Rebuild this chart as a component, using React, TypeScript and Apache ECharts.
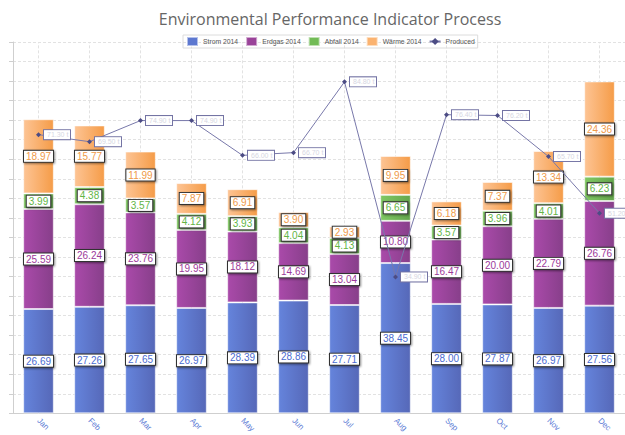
import React, { useEffect, useRef } from "react";
import * as echarts from "echarts";

const months = ["Jan", "Feb", "Mar", "Apr", "May", "Jun", "Jul", "Aug", "Sep", "Oct", "Nov", "Dec"];
const strom = [26.69, 27.26, 27.65, 26.97, 28.39, 28.86, 27.71, 38.45, 28.0, 27.87, 26.97, 27.56];
const erdgas = [25.59, 26.24, 23.76, 19.95, 18.12, 14.69, 13.04, 10.8, 16.47, 20.0, 22.79, 26.76];
const abfall = [3.99, 4.38, 3.57, 4.12, 3.93, 4.04, 4.13, 6.65, 3.57, 3.96, 4.01, 6.23];
const waerme = [18.97, 15.77, 11.99, 7.87, 6.91, 3.9, 2.93, 9.95, 6.18, 7.37, 13.34, 24.36];
const produced = [71.3, 69.5, 74.9, 74.9, 66.0, 66.7, 84.8, 34.9, 76.4, 76.2, 65.7, 51.2];

const FONT = "'Liberation Sans', Arial, sans-serif";

function grad(a: string, b: string) {
  return new echarts.graphic.LinearGradient(0, 0, 1, 0, [
    { offset: 0, color: a },
    { offset: 1, color: b },
  ]);
}

function barLabel(color: string) {
  return {
    show: true,
    position: "inside",
    formatter: (p: any) => Number(p.value).toFixed(2),
    color,
    fontSize: 10,
    fontFamily: FONT,
    backgroundColor: "#fff",
    borderColor: "#333",
    borderWidth: 1,
    padding: [1, 2, 0, 2],
    shadowColor: "rgba(0,0,0,0.45)",
    shadowBlur: 2,
    shadowOffsetX: 1,
    shadowOffsetY: 1,
  };
}

export default function App() {
  const ref = useRef<HTMLDivElement>(null);
  useEffect(() => {
    if (!ref.current) return;
    const chart = echarts.init(ref.current, null, { renderer: "svg" });
    const mkBar = (name: string, data: number[], c1: string, c2: string, lc: string, extra: any = {}) => ({
      name,
      type: "bar",
      stack: "total",
      barWidth: "60%",
      data,
      itemStyle: { color: grad(c1, c2), borderColor: "rgba(255,255,255,0.55)", borderWidth: 1 },
      label: barLabel(lc),
      ...extra,
    });
    chart.setOption({
      animation: false,
      backgroundColor: "#fff",
      graphic: [
        {
          type: "text",
          x: 330,
          y: 11,
          style: {
            text: "Environmental Performance Indicator Process",
            textAlign: "center",
            fontSize: 16,
            fontFamily: "'Open Sans', sans-serif",
            fill: "#666",
          },
        },
      ],
      legend: {
        left: 183,
        top: 35,
        itemWidth: 11,
        itemHeight: 9,
        itemGap: 7,
        padding: [1, 3],
        borderColor: "#dcdcdc",
        borderWidth: 1,
        textStyle: { fontSize: 6.8, color: "#555", fontFamily: FONT },
        data: [
          { name: "Strom 2014", icon: "rect", itemStyle: { color: "#5d78d0" } },
          { name: "Erdgas 2014", icon: "rect", itemStyle: { color: "#9a4399" } },
          { name: "Abfall 2014", icon: "rect", itemStyle: { color: "#72bb56" } },
          { name: "Wärme 2014", icon: "rect", itemStyle: { color: "#fbb370" } },
          { name: "Produced" },
        ],
      },
      grid: { left: 13, top: 42, width: 620, height: 373 },
      xAxis: {
        type: "category",
        data: months,
        axisLine: { lineStyle: { color: "#cfcfcf" } },
        axisTick: { alignWithLabel: true, length: 4, lineStyle: { color: "#cfcfcf" } },
        axisLabel: { rotate: -45, color: "#5b7bd5", fontSize: 8, fontFamily: FONT, margin: 6 },
        splitLine: { show: false },
      },
      yAxis: {
        type: "value",
        min: 0,
        max: 95,
        interval: 5,
        axisLine: { show: true, lineStyle: { color: "#cfcfcf" } },
        axisTick: { show: true, length: 4, lineStyle: { color: "#cfcfcf" } },
        axisLabel: { show: false },
        splitLine: { lineStyle: { color: "#e2e2e2", type: [3, 2] } },
      },
      series: [
        mkBar("Strom 2014", strom, "#6584dc", "#5668b8", "#4b6cd0", {
          markLine: {
            silent: true,
            z: 1,
            symbol: "none",
            label: { show: false },
            lineStyle: { color: "#e2e2e2", type: [3, 2], width: 1 },
            data: months.map((m) => ({ xAxis: m })),
          },
        }),
        mkBar("Erdgas 2014", erdgas, "#aa4aaa", "#873f8a", "#9c3a9a"),
        mkBar("Abfall 2014", abfall, "#80c864", "#64a64c", "#62b546"),
        mkBar("Wärme 2014", waerme, "#fdc494", "#f59c48", "#ef9a4a"),
        {
          name: "Produced",
          type: "line",
          data: produced,
          z: 5,
          symbol: "diamond",
          symbolSize: 5,
          itemStyle: { color: "#4c4c84" },
          lineStyle: { color: "#7878aa", width: 1 },
          label: {
            show: true,
            position: "right",
            distance: 3,
            formatter: (p: any) => Number(p.value).toFixed(2) + " t",
            color: "#d6d6e2",
            fontSize: 7,
            fontFamily: FONT,
            backgroundColor: "#fff",
            borderColor: "#7474a4",
            borderWidth: 1,
            padding: [1, 3],
            width: 20,
          },
        },
      ],
    });
    return () => chart.dispose();
  }, []);
  return <div ref={ref} style={{ width: 625, height: 435, position: "absolute", left: 0, top: 0 }} />;
}
